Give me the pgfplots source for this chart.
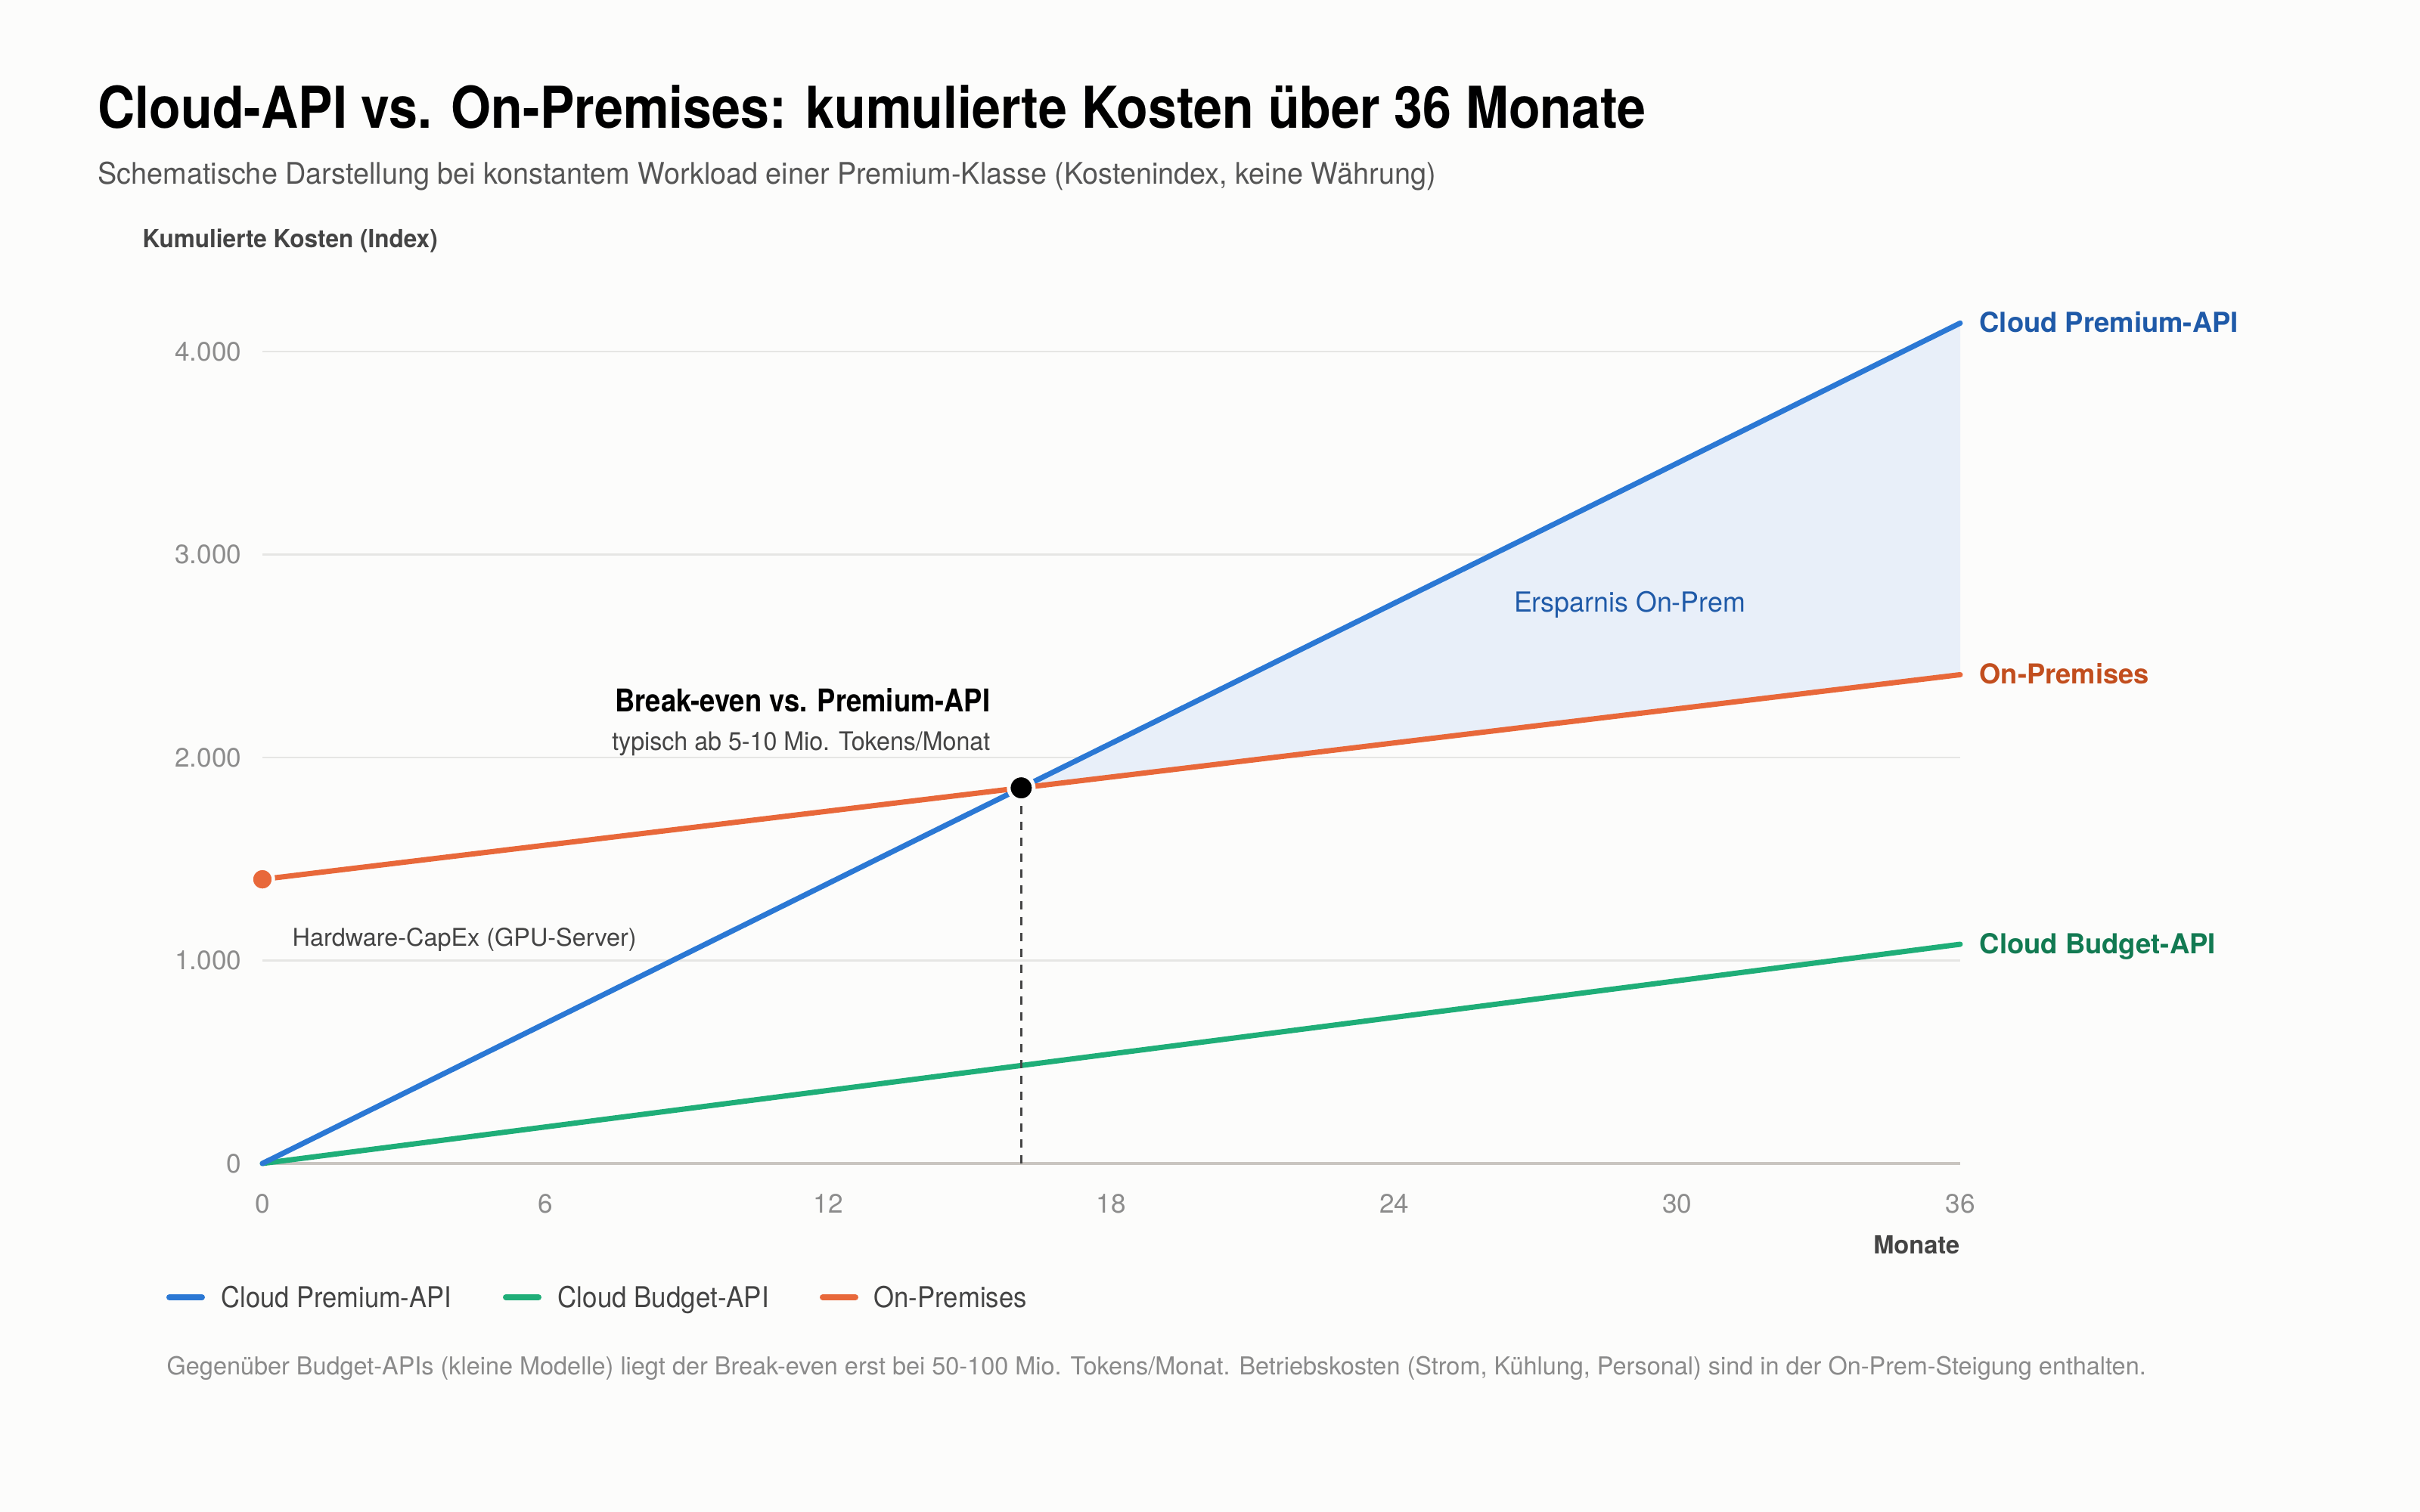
\documentclass[border=0pt]{standalone}
\usepackage{fontspec}
\setmainfont{TeX Gyre Heros}
\usepackage{graphicx}
\usepackage{pgfplots}
\pgfplotsset{compat=1.18}

\definecolor{premium}{HTML}{2B78D4}
\definecolor{budget}{HTML}{1FAE78}
\definecolor{onprem}{HTML}{E8683A}
\definecolor{premiumtext}{HTML}{1F5AA8}
\definecolor{budgettext}{HTML}{127A52}
\definecolor{onpremtext}{HTML}{C24E1E}
\definecolor{savings}{HTML}{E8EFF9}
\definecolor{gridc}{HTML}{E6E6E4}
\definecolor{axisc}{HTML}{C9C5C0}
\definecolor{tickc}{HTML}{8C8C8C}
\definecolor{bg}{HTML}{FCFCFB}
\definecolor{darktext}{HTML}{444444}
\definecolor{subtext}{HTML}{555555}
\definecolor{foottext}{HTML}{8A8A8A}

% fit a text to a given width, keeping its proportions
\newcommand{\fitw}[2]{\resizebox{#1}{!}{#2}}
% fit a text to a given width, stretching only horizontally
\newcommand{\fith}[2]{\resizebox{#1}{\height}{#2}}

\begin{document}
\begin{tikzpicture}
\fill[bg] (0,0) rectangle (32cm,20cm);

% title block
\node[anchor=base west, inner sep=0pt] at (1.29cm,18.30cm)
  {\fith{20.47cm}{\fontsize{21.7}{26}\selectfont\bfseries Cloud-API vs. On-Premises: kumulierte Kosten über 36 Monate}};
\node[anchor=base west, inner sep=0pt, text=subtext] at (1.29cm,17.56cm)
  {\fith{17.69cm}{\fontsize{11.2}{13}\selectfont Schematische Darstellung bei konstantem Workload einer Premium-Klasse (Kostenindex, keine Währung)}};
\node[anchor=base west, inner sep=0pt, text=darktext] at (1.88cm,16.72cm)
  {\fith{3.90cm}{\fontsize{9.4}{11}\selectfont\bfseries Kumulierte Kosten (Index)}};

\begin{axis}[
  at={(3.47cm,4.61cm)}, anchor=south west,
  scale only axis, width=22.45cm, height=11.277cm,
  xmin=0, xmax=36, ymin=0, ymax=4200,
  clip=false,
  axis x line*=bottom, axis y line*=left,
  x axis line style={-, draw=axisc, line width=0.35mm},
  y axis line style={draw=none},
  major tick length=0pt,
  xtick={0,6,...,36}, ytick={0,1000,2000,3000,4000},
  ymajorgrids, grid style={draw=gridc, line width=0.22mm},
  /pgf/number format/assume math mode=true,
  /pgf/number format/1000 sep={.},
  ticklabel style={font=\fontsize{10}{12}\selectfont, text=tickc, inner sep=0pt},
  xticklabel style={anchor=center, yshift=-5.3mm},
  yticklabel style={anchor=east, xshift=-2.7mm},
]
% savings area between premium API and on-premises after break-even
\addplot[draw=none, fill=savings] coordinates {(16.09,1850.5) (36,4140) (36,2408)} -- cycle;

% cumulative cost lines
\addplot[budget, line width=0.7mm, line cap=round] coordinates {(0,0) (36,1080)};
\addplot[premium, line width=0.7mm, line cap=round] coordinates {(0,0) (36,4140)};
\addplot[onprem, line width=0.7mm, line cap=round] coordinates {(0,1400) (36,2408)};

% break-even marker
\addplot[draw=darktext, line width=0.3mm, dash pattern=on 1.1mm off 1.0mm] coordinates {(16.09,0) (16.09,1850.5)};
\addplot[only marks, mark=*, mark size=1.65mm, mark options={fill=black, draw=bg, line width=0.5mm}] coordinates {(16.09,1850.5)};
\addplot[only marks, mark=*, mark size=1.45mm, mark options={fill=onprem, draw=bg, line width=0.45mm}] coordinates {(0,1400)};

% end labels
\node[anchor=base west, inner sep=0pt, text=premiumtext, xshift=2.5mm, yshift=-1.25mm] at (axis cs:36,4140)
  {\fitw{3.42cm}{\bfseries Cloud Premium-API}};
\node[anchor=base west, inner sep=0pt, text=onpremtext, xshift=2.5mm, yshift=-1.25mm] at (axis cs:36,2408)
  {\fitw{2.24cm}{\bfseries On-Premises}};
\node[anchor=base west, inner sep=0pt, text=budgettext, xshift=2.5mm, yshift=-1.25mm] at (axis cs:36,1080)
  {\fitw{3.12cm}{\bfseries Cloud Budget-API}};
\end{axis}

% annotations
\node[anchor=base east, inner sep=0pt] at (13.10cm,10.58cm)
  {\fith{4.96cm}{\fontsize{11.8}{14}\selectfont\bfseries Break-even vs. Premium-API}};
\node[anchor=base east, inner sep=0pt, text=darktext] at (13.10cm,10.07cm)
  {\fith{5.00cm}{\fontsize{9.6}{11}\selectfont typisch ab 5-10 Mio. Tokens/Monat}};
\node[anchor=base west, inner sep=0pt, text=darktext] at (3.86cm,7.48cm)
  {\fith{4.55cm}{\fontsize{9.2}{11}\selectfont Hardware-CapEx (GPU-Server)}};
\node[anchor=base, inner sep=0pt, text=premiumtext] at (21.55cm,11.90cm)
  {\fith{3.06cm}{\fontsize{10.4}{12}\selectfont Ersparnis On-Prem}};
\node[anchor=base east, inner sep=0pt, text=darktext] at (25.92cm,3.41cm)
  {\fith{1.14cm}{\fontsize{9.4}{11}\selectfont\bfseries Monate}};

% legend
\draw[premium, line width=0.8mm, line cap=round] (2.24cm,2.84cm) -- (2.67cm,2.84cm);
\node[anchor=base west, inner sep=0pt, text=darktext] at (2.92cm,2.70cm)
  {\fith{3.04cm}{\fontsize{10.8}{12}\selectfont Cloud Premium-API}};
\draw[budget, line width=0.8mm, line cap=round] (6.69cm,2.84cm) -- (7.12cm,2.84cm);
\node[anchor=base west, inner sep=0pt, text=darktext] at (7.37cm,2.70cm)
  {\fith{2.79cm}{\fontsize{10.8}{12}\selectfont Cloud Budget-API}};
\draw[onprem, line width=0.8mm, line cap=round] (10.88cm,2.84cm) -- (11.31cm,2.84cm);
\node[anchor=base west, inner sep=0pt, text=darktext] at (11.55cm,2.70cm)
  {\fith{2.02cm}{\fontsize{10.8}{12}\selectfont On-Premises}};

% footnote
\node[anchor=base west, inner sep=0pt, text=foottext] at (2.20cm,1.81cm)
  {\fith{26.17cm}{\fontsize{9.3}{11}\selectfont Gegenüber Budget-APIs (kleine Modelle) liegt der Break-even erst bei 50-100 Mio. Tokens/Monat. Betriebskosten (Strom, Kühlung, Personal) sind in der On-Prem-Steigung enthalten.}};
\end{tikzpicture}
\end{document}
